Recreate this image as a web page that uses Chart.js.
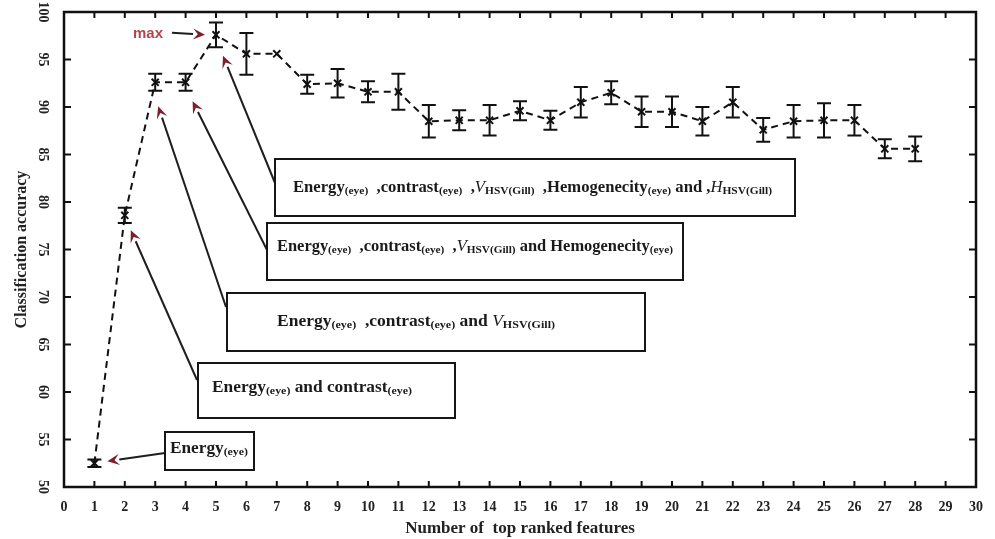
<!DOCTYPE html>
<html>
<head>
<meta charset="utf-8">
<script src="https://cdn.jsdelivr.net/npm/chart.js@4.4.0/dist/chart.umd.min.js"></script>
<style>
  html, body { margin: 0; padding: 0; background: #fff; }
  #wrap { width: 995px; height: 539px; position: relative; }
</style>
</head>
<body>
<div id="wrap"><canvas id="myChart"></canvas></div>
<script>
// data
const features = [1, 2, 3, 4, 5, 6, 7, 8, 9, 10, 11, 12, 13, 14, 15, 16, 17, 18, 19, 20, 21, 22, 23, 24, 25, 26, 27, 28];
const accuracy = [52.5, 78.6, 92.6, 92.6, 97.6, 95.6, 95.6, 92.4, 92.5, 91.6, 91.6, 88.5, 88.6, 88.6, 89.6, 88.6, 90.5, 91.5, 89.5, 89.5, 88.5, 90.5, 87.6, 88.5, 88.6, 88.6, 85.6, 85.6];
const errors = [0.4, 0.8, 0.9, 0.9, 1.3, 2.2, 0, 1.0, 1.5, 1.1, 1.9, 1.7, 1.05, 1.6, 1.0, 1.0, 1.6, 1.2, 1.6, 1.6, 1.5, 1.6, 1.25, 1.7, 1.8, 1.6, 1.0, 1.3];
const xTicks = [0, 30, 1];     // min, max, step
const yTicks = [50, 100, 5];

const serif = "'Liberation Serif', 'Times New Roman', serif";

// annotation boxes (rich text: b = bold, s = subscript, i = italic)
const E = [['Energy', 'b'], ['(eye)', 's']];
const boxes = [
  { r: [165, 432, 254, 470], tx: 170, ty: 449, w: 78, segs: E, from: [165, 453], pt: 0, dx: 13, dy: -2 },
  { r: [198, 363, 455, 418], tx: 212, ty: 388, w: 200, segs: E.concat([[' and contrast', 'b'], ['(eye)', 's']]), from: [197, 380], pt: 1, dx: 6, dy: 15 },
  { r: [227, 293, 645, 351], tx: 277, ty: 322, w: 278, segs: E.concat([['  ,contrast', 'b'], ['(eye)', 's'], [' and ', 'b'], ['V', 'i'], ['HSV(Gill)', 's']]), from: [226, 307], pt: 2, dx: 3, dy: 24 },
  { r: [267, 223, 683, 280], tx: 277, ty: 247, w: 396, segs: E.concat([['  ,contrast', 'b'], ['(eye)', 's'], ['  ,', 'b'], ['V', 'i'], ['HSV(Gill)', 's'], [' and Hemogenecity', 'b'], ['(eye)', 's']]), from: [267, 250], pt: 3, dx: 7, dy: 19 },
  { r: [275, 159, 795, 216], tx: 293, ty: 188, w: 479, segs: E.concat([['  ,contrast', 'b'], ['(eye)', 's'], ['  ,', 'b'], ['V', 'i'], ['HSV(Gill)', 's'], ['  ,Hemogenecity', 'b'], ['(eye)', 's'], [' and ,', 'b'], ['H', 'i'], ['HSV(Gill)', 's']]), from: [275, 183], pt: 4, dx: 7, dy: 21 }
];

function segFont(k) {
  if (k === 's') return 'bold 11px ' + serif;
  if (k === 'i') return 'italic 16px ' + serif;
  return 'bold 16px ' + serif;
}

function drawRich(ctx, x, y, segs, targetW) {
  let total = 0;
  segs.forEach(s => { ctx.font = segFont(s[1]); total += ctx.measureText(s[0]).width; });
  const sx = targetW / total;
  ctx.save();
  ctx.translate(x, y);
  ctx.scale(sx, 1);
  ctx.fillStyle = '#1a1a1a';
  ctx.textBaseline = 'middle';
  ctx.textAlign = 'left';
  let cx = 0;
  segs.forEach(s => {
    ctx.font = segFont(s[1]);
    ctx.fillText(s[0], cx, s[1] === 's' ? 3 : 0);
    cx += ctx.measureText(s[0]).width;
  });
  ctx.restore();
}

function arrow(ctx, x1, y1, x2, y2) {
  const a = Math.atan2(y2 - y1, x2 - x1);
  const L = 12, H = 5.5;
  const bx = x2 - L * Math.cos(a), by = y2 - L * Math.sin(a);
  ctx.strokeStyle = '#1e1e1e';
  ctx.lineWidth = 2;
  ctx.beginPath();
  ctx.moveTo(x1, y1);
  ctx.lineTo(bx, by);
  ctx.stroke();
  ctx.fillStyle = '#7d1f2c';
  ctx.beginPath();
  ctx.moveTo(x2, y2);
  ctx.lineTo(bx + H * Math.sin(a), by - H * Math.cos(a));
  ctx.lineTo(x2 - 0.6 * L * Math.cos(a), y2 - 0.6 * L * Math.sin(a));
  ctx.lineTo(bx - H * Math.sin(a), by + H * Math.cos(a));
  ctx.closePath();
  ctx.fill();
}

const figurePlugin = {
  id: 'figure',
  afterDatasetsDraw(chart) {
    const ctx = chart.ctx;
    const xs = chart.scales.x, ys = chart.scales.y;
    // error bars
    ctx.save();
    ctx.strokeStyle = '#111';
    ctx.lineWidth = 2;
    for (let i = 0; i < features.length; i++) {
      if (!errors[i]) continue;
      const px = xs.getPixelForValue(features[i]);
      const t = ys.getPixelForValue(accuracy[i] + errors[i]);
      const b = ys.getPixelForValue(accuracy[i] - errors[i]);
      ctx.beginPath();
      ctx.moveTo(px, t); ctx.lineTo(px, b);
      ctx.moveTo(px - 7, t); ctx.lineTo(px + 7, t);
      ctx.moveTo(px - 7, b); ctx.lineTo(px + 7, b);
      ctx.stroke();
    }
    ctx.restore();
  },
  afterDraw(chart) {
    const ctx = chart.ctx;
    const xs = chart.scales.x, ys = chart.scales.y;
    const a = chart.chartArea;
    ctx.save();
    // frame
    ctx.strokeStyle = '#111';
    ctx.lineWidth = 2.5;
    ctx.strokeRect(a.left, a.top, a.right - a.left, a.bottom - a.top);
    // inward ticks
    ctx.lineWidth = 2;
    ctx.beginPath();
    xs.ticks.forEach(t => {
      const px = xs.getPixelForValue(t.value);
      ctx.moveTo(px, a.bottom); ctx.lineTo(px, a.bottom - 6);
      ctx.moveTo(px, a.top); ctx.lineTo(px, a.top + 6);
    });
    ys.ticks.forEach(t => {
      const py = ys.getPixelForValue(t.value);
      ctx.moveTo(a.left, py); ctx.lineTo(a.left + 7, py);
      ctx.moveTo(a.right, py); ctx.lineTo(a.right - 7, py);
    });
    ctx.stroke();
    // y tick labels, rotated clockwise
    ctx.fillStyle = '#222';
    ctx.font = 'bold 14px ' + serif;
    ctx.textAlign = 'center';
    ctx.textBaseline = 'middle';
    ys.ticks.forEach(t => {
      const py = ys.getPixelForValue(t.value);
      ctx.save();
      ctx.translate(a.left - 21, py);
      ctx.rotate(Math.PI / 2);
      ctx.fillText(String(t.value), 0, 0);
      ctx.restore();
    });
    // boxes and arrows
    boxes.forEach(bx => {
      const px = xs.getPixelForValue(features[bx.pt]) + bx.dx;
      const py = ys.getPixelForValue(accuracy[bx.pt]) + bx.dy;
      arrow(ctx, bx.from[0], bx.from[1], px, py);
    });
    boxes.forEach(bx => {
      const r = bx.r;
      ctx.fillStyle = '#fff';
      ctx.fillRect(r[0], r[1], r[2] - r[0], r[3] - r[1]);
      ctx.strokeStyle = '#161616';
      ctx.lineWidth = 2;
      ctx.strokeRect(r[0], r[1], r[2] - r[0], r[3] - r[1]);
      drawRich(ctx, bx.tx, bx.ty, bx.segs, bx.w);
    });
    // "max" label
    const mi = accuracy.indexOf(Math.max(...accuracy));
    const mx = xs.getPixelForValue(features[mi]);
    const my = ys.getPixelForValue(accuracy[mi]);
    ctx.fillStyle = '#b4454f';
    ctx.font = 'bold 15px "Liberation Sans", Arial, sans-serif';
    ctx.textAlign = 'right';
    ctx.textBaseline = 'middle';
    ctx.fillText('max', mx - 53, my - 1);
    arrow(ctx, mx - 44, my - 2, mx - 11, my);
    ctx.restore();
  }
};

const ctx = document.getElementById('myChart');

let points = [];
for (let i = 0; i < features.length; i++) {
  points.push({ x: features[i], y: accuracy[i] });
}

new Chart(ctx, {
  type: 'line',
  data: {
    datasets: [{
      label: 'Classification accuracy',
      data: points,
      borderColor: '#111',
      borderWidth: 2,
      borderDash: [7, 5],
      pointStyle: 'crossRot',
      pointRadius: 5,
      pointBorderWidth: 2,
      pointBorderColor: '#111',
      fill: false,
      tension: 0
    }]
  },
  options: {
    responsive: true,
    maintainAspectRatio: false,
    animation: false,
    layout: { padding: { left: 0, right: 16, top: 12, bottom: 0 } },
    plugins: {
      legend: { display: false },
      tooltip: { enabled: false }
    },
    scales: {
      x: {
        type: 'linear',
        min: xTicks[0],
        max: xTicks[1],
        grid: { display: false, drawTicks: false },
        border: { display: false },
        ticks: {
          stepSize: xTicks[2],
          autoSkip: false,
          maxRotation: 0,
          padding: 12,
          color: '#222',
          font: { family: serif, size: 14, weight: 'bold' }
        },
        title: {
          display: true,
          text: 'Number of  top ranked features',
          color: '#222',
          padding: { top: 0, bottom: 0 },
          font: { family: serif, size: 17, weight: 'bold' }
        },
        afterFit(scale) { scale.height = 52; }
      },
      y: {
        min: yTicks[0],
        max: yTicks[1],
        grid: { display: false, drawTicks: false },
        border: { display: false },
        ticks: { stepSize: yTicks[2], display: false },
        title: {
          display: true,
          text: 'Classification accuracy',
          color: '#222',
          padding: { top: 12, bottom: 0 },
          font: { family: serif, size: 16, weight: 'bold' }
        },
        afterFit(scale) { scale.width = 64; }
      }
    }
  },
  plugins: [figurePlugin]
});
</script>
</body>
</html>
